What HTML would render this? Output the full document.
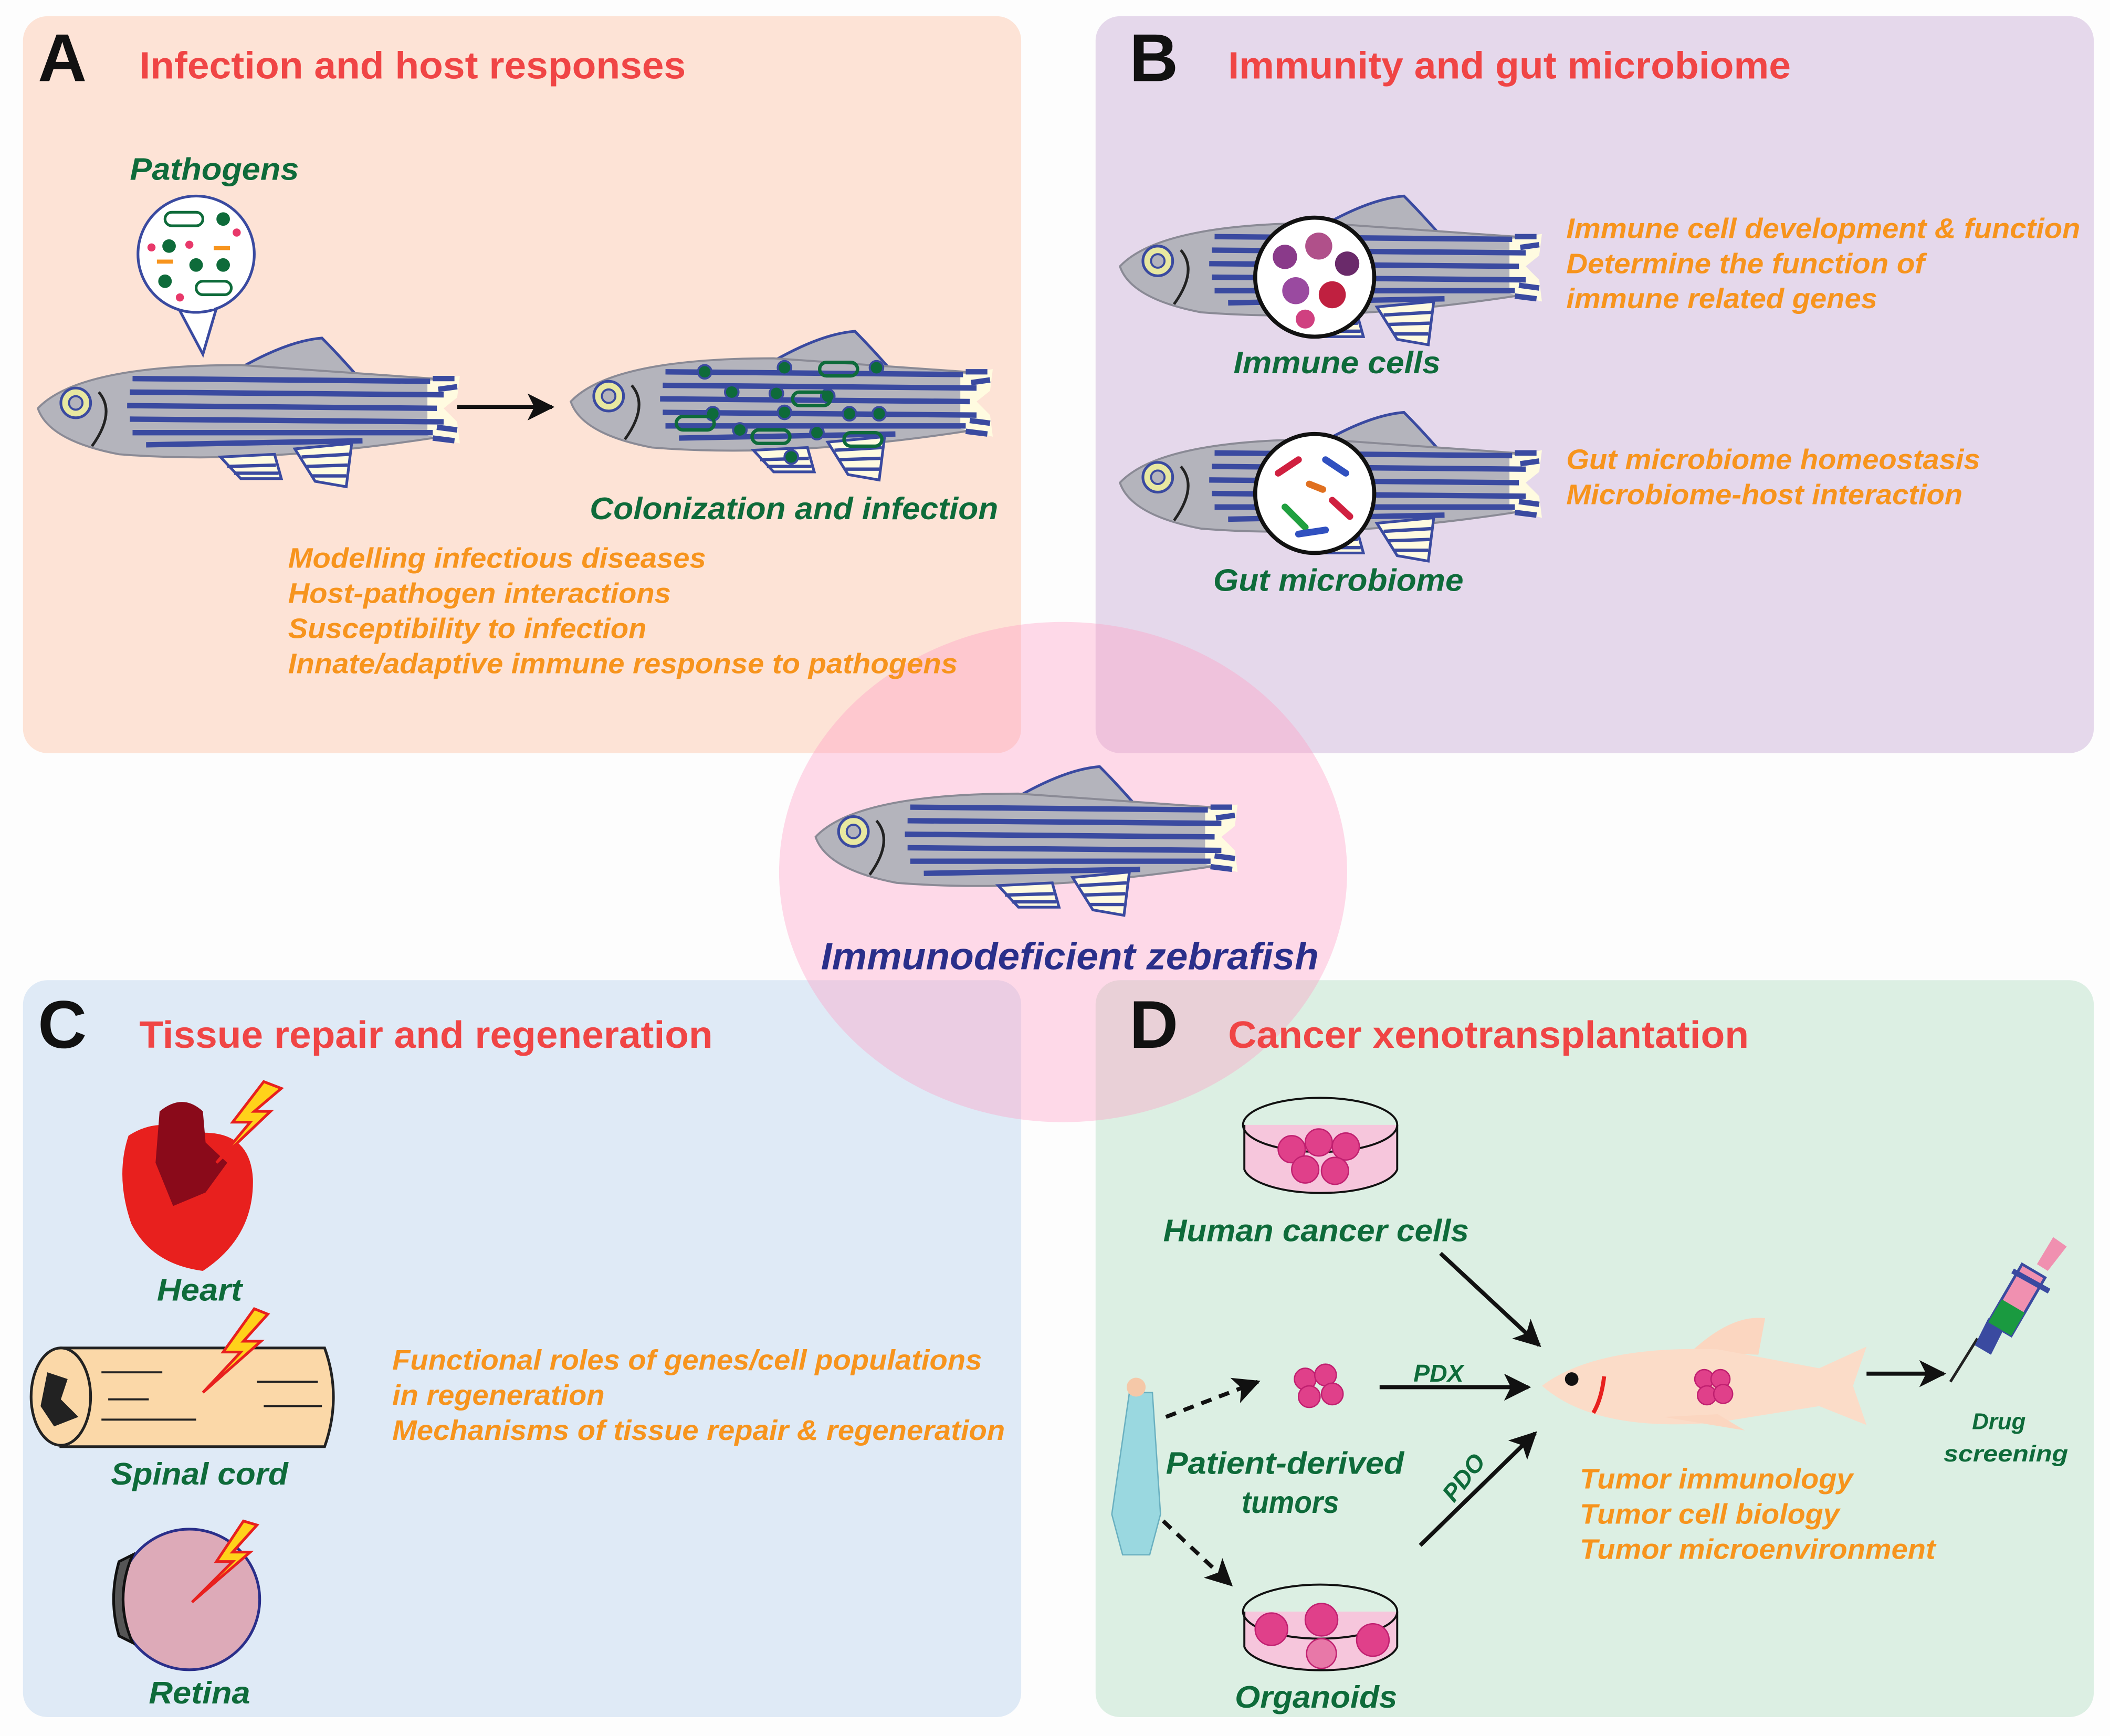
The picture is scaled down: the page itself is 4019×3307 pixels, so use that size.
<!DOCTYPE html>
<html><head><meta charset="utf-8"><style>
html,body{margin:0;padding:0;background:#fdfdfd}
svg{display:block}
text{font-family:"Liberation Sans",sans-serif;font-weight:bold}
.g{fill:#0e6b3a;font-style:italic;font-size:23px}
.o{fill:#f7941d;font-style:italic;font-size:21px}
.h{fill:#f04545;font-size:28px}
.L{fill:#111;font-size:50px}
</style></head><body>
<svg width="4019" height="3307" viewBox="0 0 1560 1284" preserveAspectRatio="none" xmlns="http://www.w3.org/2000/svg">
<defs>
<g id="fish">
 <path d="M150,22 Q185,2 210,0 Q222,12 236,28 Z" fill="#b4b4bc" stroke="#3a4aa0" stroke-width="2"/>
 <path d="M0,52 Q30,20 150,20 L292,30 L292,74 Q160,94 60,86 Q8,76 0,52 Z" fill="#b4b4bc" stroke="#8a8a95" stroke-width="1.5"/>
 <path d="M135,88 L175,86 L180,104 L150,104 Z" fill="#fffbe0" stroke="#3a4aa0" stroke-width="2"/>
 <path d="M190,82 L232,78 L228,110 L205,106 Z" fill="#fffbe0" stroke="#3a4aa0" stroke-width="2"/>
 <g stroke="#3a4aa0" stroke-width="2.5"><line x1="140" y1="95" x2="176" y2="94"/><line x1="145" y1="100" x2="178" y2="100"/><line x1="195" y1="88" x2="230" y2="86"/><line x1="198" y1="95" x2="229" y2="94"/><line x1="202" y1="102" x2="228" y2="102"/></g>
 <path d="M288,32 L312,28 L310,44 L300,52 L310,62 L312,78 L288,72 Z" fill="#fffbe0"/>
 <g stroke="#3a4aa0" stroke-width="4" fill="none">
  <path d="M70,30 L290,32"/><path d="M68,40 L300,42"/><path d="M66,50 L295,52"/><path d="M68,60 L300,62"/><path d="M70,70 L292,70"/><path d="M80,79 L240,76"/>
  <path d="M292,30 L308,30"/><path d="M296,38 L310,36"/><path d="M295,66 L310,68"/><path d="M292,74 L308,76"/>
 </g>
 <path d="M45,40 Q58,55 40,80" stroke="#222" stroke-width="2" fill="none"/>
 <circle cx="28" cy="48" r="11" fill="#e8e8a0" stroke="#3a4aa0" stroke-width="2"/>
 <circle cx="28" cy="48" r="5" fill="#b4b4bc" stroke="#3a4aa0" stroke-width="1.5"/>
</g>
<marker id="ar2" markerWidth="20" markerHeight="20" refX="18" refY="10" orient="auto" markerUnits="userSpaceOnUse"><path d="M0,0 L20,10 L0,20 L5,10 Z" fill="#111"/></marker>
</defs>
<rect width="1560" height="1284" fill="#fdfdfd"/>
<rect x="17" y="12" width="738" height="545" rx="18" fill="#fde3d6"/>
<rect x="810" y="12" width="738" height="545" rx="18" fill="#e5d8eb"/>
<rect x="17" y="725" width="738" height="545" rx="18" fill="#dfeaf6"/>
<rect x="810" y="725" width="738" height="545" rx="18" fill="#dcefe3"/>
<ellipse cx="786" cy="645" rx="210" ry="185" fill="#ff9ec4" fill-opacity="0.38"/>

<!-- A -->
<text x="28" y="60" class="L">A</text>
<text x="103" y="58" class="h" textLength="404" lengthAdjust="spacingAndGlyphs">Infection and host responses</text>
<text x="96" y="133" class="g" textLength="125" lengthAdjust="spacingAndGlyphs">Pathogens</text>
<path d="M132,228 L150,262 L160,228 Z" fill="#fff" stroke="#3a4aa0" stroke-width="2"/>
<circle cx="145" cy="188" r="43" fill="#fff" stroke="#3a4aa0" stroke-width="2"/>
<path d="M134,227 L158,227" stroke="#fff" stroke-width="3"/>
<g fill="#0e6b3a"><circle cx="125" cy="182" r="5"/><circle cx="145" cy="196" r="5"/><circle cx="165" cy="196" r="5"/><circle cx="122" cy="208" r="5"/><circle cx="165" cy="162" r="5"/></g>
<g fill="none" stroke="#0e6b3a" stroke-width="2"><rect x="122" y="157" width="28" height="10" rx="5"/><rect x="145" y="208" width="26" height="10" rx="5"/></g>
<g fill="#e8386a"><circle cx="112" cy="183" r="3"/><circle cx="140" cy="181" r="3"/><circle cx="133" cy="220" r="3"/><circle cx="175" cy="172" r="3"/></g>
<g fill="#f7941d"><rect x="116" y="192" width="12" height="3"/><rect x="158" y="182" width="12" height="3"/></g>
<use href="#fish" x="28" y="250"/>
<line x1="338" y1="301" x2="408" y2="301" stroke="#111" stroke-width="3" marker-end="url(#ar2)"/>
<use href="#fish" x="422" y="245"/>
<g fill="#0e6b3a" stroke="#3a4aa0" stroke-width="1.5"><circle cx="521" cy="275" r="5"/><circle cx="580" cy="272" r="5"/><circle cx="648" cy="272" r="5"/><circle cx="541" cy="290" r="5"/><circle cx="574" cy="291" r="5"/><circle cx="612" cy="293" r="5"/><circle cx="527" cy="306" r="5"/><circle cx="580" cy="305" r="5"/><circle cx="628" cy="306" r="5"/><circle cx="650" cy="306" r="5"/><circle cx="547" cy="318" r="5"/><circle cx="604" cy="320" r="5"/><circle cx="585" cy="338" r="5"/></g>
<g fill="none" stroke="#0e6b3a" stroke-width="2.5"><rect x="606" y="268" width="28" height="10" rx="5"/><rect x="586" y="290" width="28" height="10" rx="5"/><rect x="500" y="308" width="28" height="10" rx="5"/><rect x="556" y="318" width="28" height="10" rx="5"/><rect x="624" y="320" width="28" height="10" rx="5"/></g>
<text x="436" y="384" class="g" textLength="302" lengthAdjust="spacingAndGlyphs">Colonization and infection</text>
<text x="213" y="420" class="o" textLength="309" lengthAdjust="spacingAndGlyphs">Modelling infectious diseases</text>
<text x="213" y="446" class="o" textLength="283" lengthAdjust="spacingAndGlyphs">Host-pathogen interactions</text>
<text x="213" y="472" class="o" textLength="265" lengthAdjust="spacingAndGlyphs">Susceptibility to infection</text>
<text x="213" y="498" class="o" textLength="495" lengthAdjust="spacingAndGlyphs">Innate/adaptive immune response to pathogens</text>

<!-- B -->
<text x="835" y="60" class="L">B</text>
<text x="908" y="58" class="h" textLength="416" lengthAdjust="spacingAndGlyphs">Immunity and gut microbiome</text>
<use href="#fish" x="828" y="145"/>
<circle cx="972" cy="205" r="44" fill="#fff" stroke="#111" stroke-width="3"/>
<g fill="#8a3a8a"><circle cx="950" cy="190" r="9"/><circle cx="975" cy="182" r="10" fill="#b0508a"/><circle cx="996" cy="195" r="9" fill="#6a2a6a"/><circle cx="958" cy="215" r="10" fill="#9a4aa0"/><circle cx="985" cy="218" r="10" fill="#c02040"/><circle cx="965" cy="236" r="7" fill="#d04080"/></g>
<text x="912" y="276" class="g" textLength="153" lengthAdjust="spacingAndGlyphs">Immune cells</text>
<use href="#fish" x="828" y="305"/>
<circle cx="972" cy="365" r="44" fill="#fff" stroke="#111" stroke-width="3"/>
<g stroke-width="5" stroke-linecap="round"><line x1="945" y1="350" x2="960" y2="340" stroke="#d02040"/><line x1="980" y1="340" x2="995" y2="350" stroke="#3050c0"/><line x1="950" y1="375" x2="965" y2="390" stroke="#20a040"/><line x1="985" y1="370" x2="998" y2="382" stroke="#d02040"/><line x1="968" y1="358" x2="978" y2="362" stroke="#e07020"/><line x1="960" y1="395" x2="980" y2="392" stroke="#3050c0"/></g>
<text x="897" y="437" class="g" textLength="185" lengthAdjust="spacingAndGlyphs">Gut microbiome</text>
<text x="1158" y="176" class="o" textLength="380" lengthAdjust="spacingAndGlyphs">Immune cell development &amp; function</text>
<text x="1158" y="202" class="o" textLength="265" lengthAdjust="spacingAndGlyphs">Determine the function of</text>
<text x="1158" y="228" class="o" textLength="230" lengthAdjust="spacingAndGlyphs">immune related genes</text>
<text x="1158" y="347" class="o" textLength="306" lengthAdjust="spacingAndGlyphs">Gut microbiome homeostasis</text>
<text x="1158" y="373" class="o" textLength="293" lengthAdjust="spacingAndGlyphs">Microbiome-host interaction</text>

<!-- center -->
<use href="#fish" x="603" y="567"/>
<text x="607" y="717" style="fill:#2a2f8a;font-style:italic;font-size:28px" textLength="368" lengthAdjust="spacingAndGlyphs">Immunodeficient zebrafish</text>

<!-- C -->
<text x="28" y="775" class="L">C</text>
<text x="103" y="775" class="h" textLength="424" lengthAdjust="spacingAndGlyphs">Tissue repair and regeneration</text>
<path d="M95,840 Q118,825 145,838 Q185,835 187,872 Q188,915 150,940 Q112,935 97,905 Q85,870 95,840 Z" fill="#e8201e"/>
<path d="M118,822 Q135,808 150,822 L152,845 L168,860 L152,882 L128,892 L115,860 Z" fill="#8a0a1a"/>
<path d="M195,800 L172,830 L185,830 L160,860 L200,822 L188,822 L208,805 Z" fill="#ffd21a" stroke="#e8201e" stroke-width="2"/>
<text x="116" y="962" class="g" textLength="63" lengthAdjust="spacingAndGlyphs">Heart</text>
<path d="M45,997 L240,997 Q253,1033 240,1070 L45,1070 Z" fill="#fbd8a8" stroke="#222" stroke-width="2"/>
<ellipse cx="45" cy="1033" rx="22" ry="36" fill="#fbd8a8" stroke="#222" stroke-width="2"/>
<path d="M35,1015 L50,1020 L45,1035 L58,1048 L40,1055 L30,1040 Z" fill="#222"/>
<g stroke="#222" stroke-width="1.5"><line x1="75" y1="1015" x2="120" y2="1015"/><line x1="80" y1="1035" x2="110" y2="1035"/><line x1="75" y1="1050" x2="145" y2="1050"/><line x1="190" y1="1022" x2="235" y2="1022"/><line x1="195" y1="1040" x2="238" y2="1040"/></g>
<path d="M188,968 L165,1000 L178,1000 L150,1030 L193,992 L180,992 L198,972 Z" fill="#ffd21a" stroke="#e8201e" stroke-width="2"/>
<text x="82" y="1098" class="g" textLength="131" lengthAdjust="spacingAndGlyphs">Spinal cord</text>
<circle cx="140" cy="1183" r="52" fill="#ddaab8" stroke="#2a2f8a" stroke-width="2"/>
<path d="M98,1150 Q84,1183 98,1215 L88,1210 Q80,1183 88,1155 Z" fill="#555" stroke="#111" stroke-width="2"/>
<path d="M180,1125 L160,1155 L172,1155 L142,1185 L185,1148 L172,1148 L190,1128 Z" fill="#ffd21a" stroke="#e8201e" stroke-width="2"/>
<text x="110" y="1260" class="g" textLength="75" lengthAdjust="spacingAndGlyphs">Retina</text>
<text x="290" y="1013" class="o" textLength="436" lengthAdjust="spacingAndGlyphs">Functional roles of genes/cell populations</text>
<text x="290" y="1039" class="o" textLength="157" lengthAdjust="spacingAndGlyphs">in regeneration</text>
<text x="290" y="1065" class="o" textLength="453" lengthAdjust="spacingAndGlyphs">Mechanisms of tissue repair &amp; regeneration</text>

<!-- D -->
<text x="835" y="775" class="L">D</text>
<text x="908" y="775" class="h" textLength="385" lengthAdjust="spacingAndGlyphs">Cancer xenotransplantation</text>
<g stroke="#111" stroke-width="1.5">
<path d="M920,832 L920,865 A57,20 0 0 0 1033,865 L1033,832" fill="#f6c6dc"/>
<ellipse cx="976" cy="832" rx="57" ry="20" fill="none"/>
</g>
<g fill="#e0408a" stroke="#c02070"><circle cx="955" cy="850" r="10"/><circle cx="975" cy="845" r="10"/><circle cx="995" cy="848" r="10"/><circle cx="965" cy="865" r="10"/><circle cx="987" cy="866" r="10"/></g>
<text x="860" y="918" class="g" textLength="226" lengthAdjust="spacingAndGlyphs">Human cancer cells</text>
<line x1="1065" y1="927" x2="1138" y2="995" stroke="#111" stroke-width="3" marker-end="url(#ar2)"/>
<path d="M835,1030 L852,1030 L858,1120 L850,1150 L830,1150 L822,1120 Z" fill="#9ad8e0" stroke="#6ab0c0"/>
<circle cx="840" cy="1026" r="7" fill="#f5c8a8"/>
<line x1="862" y1="1048" x2="930" y2="1022" stroke="#111" stroke-width="3" stroke-dasharray="8,6" marker-end="url(#ar2)"/>
<line x1="860" y1="1125" x2="910" y2="1172" stroke="#111" stroke-width="3" stroke-dasharray="8,6" marker-end="url(#ar2)"/>
<g fill="#e0408a" stroke="#c02070"><circle cx="965" cy="1020" r="8"/><circle cx="980" cy="1017" r="8"/><circle cx="968" cy="1033" r="8"/><circle cx="985" cy="1031" r="8"/></g>
<text x="1045" y="1022" class="g" style="font-size:18px">PDX</text>
<line x1="1020" y1="1026" x2="1130" y2="1026" stroke="#111" stroke-width="3" marker-end="url(#ar2)"/>
<text x="1075" y="1112" class="g" style="font-size:18px" transform="rotate(-52 1075 1112)">PDO</text>
<line x1="1050" y1="1143" x2="1135" y2="1060" stroke="#111" stroke-width="3" marker-end="url(#ar2)"/>
<path d="M1250,1000 Q1280,972 1305,975 L1300,1002 Z" fill="#fbd6c0"/>
<path d="M1140,1025 Q1180,995 1270,998 L1345,1012 L1380,996 L1370,1025 L1380,1054 L1345,1040 L1270,1052 Q1180,1060 1140,1025 Z" fill="#fbdcc8"/>
<path d="M1230,1048 L1290,1058 L1270,1046 Z" fill="#fbd6c0"/>
<circle cx="1162" cy="1020" r="5" fill="#111"/>
<path d="M1186,1018 Q1184,1035 1178,1045" stroke="#e8201e" stroke-width="3" fill="none"/>
<g fill="#e0408a" stroke="#c02070"><circle cx="1260" cy="1020" r="7"/><circle cx="1272" cy="1020" r="7"/><circle cx="1262" cy="1032" r="7"/><circle cx="1274" cy="1031" r="7"/></g>
<line x1="1380" y1="1016" x2="1437" y2="1016" stroke="#111" stroke-width="3" marker-end="url(#ar2)"/>
<line x1="1442" y1="1022" x2="1462" y2="990" stroke="#222" stroke-width="2"/>
<path d="M1460,995 L1470,975 L1482,982 L1472,1002 Z" fill="#3a4aa0"/>
<path d="M1470,978 L1495,935 L1512,945 L1487,988 Z" fill="#f090b0" stroke="#3a4aa0" stroke-width="2"/>
<path d="M1470,978 L1480,961 L1497,971 L1487,988 Z" fill="#1a9a40"/>
<line x1="1488" y1="940" x2="1515" y2="955" stroke="#3a4aa0" stroke-width="4"/>
<path d="M1506,935 L1518,915 L1528,922 L1514,940 Z" fill="#f090b0"/>
<text x="1458" y="1057" class="g" style="font-size:17px">Drug</text>
<text x="1437" y="1081" class="g" style="font-size:17px" textLength="92" lengthAdjust="spacingAndGlyphs">screening</text>
<text x="862" y="1090" class="g" textLength="176" lengthAdjust="spacingAndGlyphs">Patient-derived</text>
<text x="918" y="1119" class="g" textLength="72" lengthAdjust="spacingAndGlyphs">tumors</text>
<g stroke="#111" stroke-width="1.5">
<path d="M920,1192 L920,1218 A57,20 0 0 0 1033,1218 L1033,1192" fill="#f6c6dc"/>
<ellipse cx="976" cy="1192" rx="57" ry="20" fill="none"/>
</g>
<g fill="#e0408a" stroke="#c02070"><circle cx="940" cy="1205" r="12"/><circle cx="977" cy="1198" r="12"/><circle cx="1015" cy="1213" r="12"/><circle cx="977" cy="1223" r="11" fill="#e878a8"/></g>
<text x="913" y="1263" class="g" textLength="120" lengthAdjust="spacingAndGlyphs">Organoids</text>
<text x="1168" y="1101" class="o" textLength="202" lengthAdjust="spacingAndGlyphs">Tumor immunology</text>
<text x="1168" y="1127" class="o" textLength="192" lengthAdjust="spacingAndGlyphs">Tumor cell biology</text>
<text x="1168" y="1153" class="o" textLength="263" lengthAdjust="spacingAndGlyphs">Tumor microenvironment</text>
</svg>
</body></html>
